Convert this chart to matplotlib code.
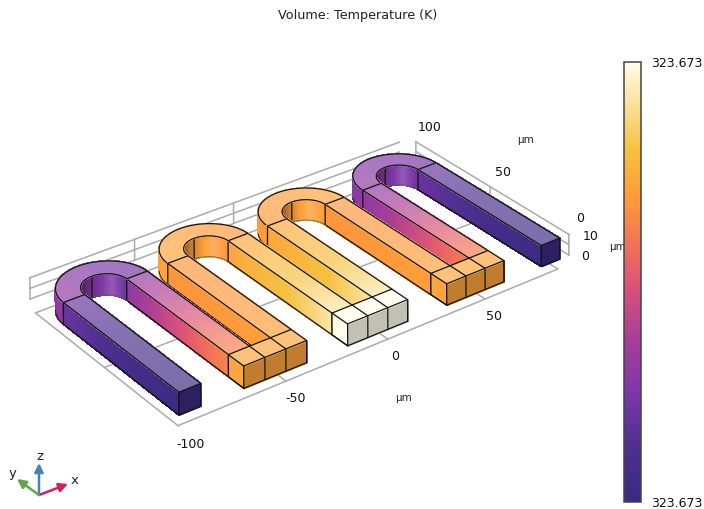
import numpy as np
import matplotlib
matplotlib.use("Agg")
import matplotlib.pyplot as plt
from matplotlib.collections import PolyCollection
from matplotlib.colors import LinearSegmentedColormap, Normalize
from matplotlib.cm import ScalarMappable

# ---------- data ----------
title = "Volume: Temperature (K)"
t_min, t_max = 323.6728, 323.6732
cmap_pos = [0.0, 0.12, 0.25, 0.37, 0.48, 0.58, 0.69, 0.80, 1.0]
cmap_col = ["#3a2a80", "#4e2f90", "#7e37a8", "#a83e98", "#d8507a",
            "#f07058", "#ff9a3a", "#f5c040", "#fffdea"]

arm_y = [0, 20, 40, 60, 80]
arm_w = 10
arm_t = {80: [.01, .05, .09, .14, .20],
         50: [.66, .58, .48, .38, .30],
         30: [.70, .70, .69, .68, .68],
         0: [.97, .88, .80, .77, .72],
         -20: [.97, .88, .80, .77, .72],
         -50: [.70, .70, .69, .68, .68],
         -70: [.66, .60, .50, .40, .30],
         -100: [.01, .05, .09, .14, .20]}
bend_t = {50: [.30, .22], 0: [.69, .72], -50: [.72, .69], -100: [.30, .22]}
bridge_t = {30: .72, -20: 1.0, -70: .72}
inner_deg = [0, 25, 45, 65, 90, 120, 146]
inner_shade = [.92, 1.05, 1.18, 1.02, .85, .65, .42]

floor_x = [-100.5, 89]
floor_y = [0, 100]
floor_z = -9
floor_xgrid = [-50, 0, 50]
floor_ygrid = [50]
back_wall_y = 104
back_wall_x = [-100.5, 89]
right_wall_x = 95
wall_z = [0, 10, 20]
wall_xgrid = [-50, 0]
wall_ygrid = [50]

# camera calibration: (x, y, z) -> pixel
calib_3d = np.array([(-100, 0, 20), (-100, 0, 0), (-90, 0, 20), (-90, 0, 0), (-70, 0, 20), (-70, 0, 0),
                     (-40, 0, 20), (-40, 0, 0), (-20, 0, 20), (10, 0, 20), (30, 0, 20), (60, 0, 20),
                     (80, 0, 20), (90, 0, 20), (80, 0, 0), (90, 0, 0),
                     (-100, 80, 20), (-90, 80, 20), (-70, 80, 20), (-60, 80, 20), (-100, 80, 0),
                     (80, 80, 20), (90, 80, 20), (80, 80, 0), (50, 80, 20), (60, 80, 20),
                     (0, 80, 20), (10, 80, 20), (30, 80, 20), (40, 80, 20)], float)
calib_px = np.array([(179, 392), (179, 415), (200, 383), (202, 405), (243, 366), (243, 388),
                     (307, 341), (307, 365), (348, 323), (407, 301), (447, 283), (504, 262),
                     (541, 245), (560, 238), (541, 266), (560, 258),
                     (63, 302), (85, 295), (127, 278), (147, 272), (63, 324),
                     (418, 169), (435, 162), (418, 190), (363, 190), (382, 184),
                     (267, 226), (288, 219), (326, 204), (343, 198)], float)

A = []
for (X, Y, Z), (u, v) in zip(calib_3d, calib_px):
    A.append([X, Y, Z, 1, 0, 0, 0, 0, -u * X, -u * Y, -u * Z, -u])
    A.append([0, 0, 0, 0, X, Y, Z, 1, -v * X, -v * Y, -v * Z, -v])
P = np.linalg.svd(np.array(A))[2][-1].reshape(3, 4)


def proj(x, y, z):
    x, y, z = np.broadcast_arrays(np.asarray(x, float), np.asarray(y, float), np.asarray(z, float))
    h = P @ np.stack([x.ravel(), y.ravel(), z.ravel(), np.ones(x.size)])
    return (h[0] / h[2]).reshape(x.shape), (h[1] / h[2]).reshape(x.shape)


cmap = LinearSegmentedColormap.from_list("thermal", list(zip(cmap_pos, cmap_col)), N=256)

fig = plt.figure(figsize=(7.04, 5.09), dpi=100)
ax = fig.add_axes([0, 0, 1, 1])
ax.set_xlim(0, 704)
ax.set_ylim(509, 0)
ax.axis("off")

GRID = "#ababab"
EDGE = "#141414"
z_counter = [10]


def nz():
    z_counter[0] += 1
    return z_counter[0]


def shade(c, f):
    c = np.asarray(c)[..., :3]
    f = np.asarray(f)[..., None]
    return np.where(f > 1, c + (1 - c) * (f - 1), c * f)


def top_mix(c):
    c = np.asarray(c)[..., :3]
    return c + (1 - c) * .32


def surf(X, Y, Z, rgb):
    u, v = proj(X, Y, Z)
    verts, cols = [], []
    for i in range(u.shape[0] - 1):
        for j in range(u.shape[1] - 1):
            verts.append([(u[i, j], v[i, j]), (u[i + 1, j], v[i + 1, j]),
                          (u[i + 1, j + 1], v[i + 1, j + 1]), (u[i, j + 1], v[i, j + 1])])
            cols.append(rgb[i])
    ax.add_collection(PolyCollection(verts, facecolors=cols, edgecolors=cols, linewidths=.7,
                                     antialiaseds=False, zorder=nz()))


def edge(x, y, z, lw=.9, c=EDGE):
    u, v = proj(x, y, z)
    ax.plot(u, v, color=c, lw=lw, zorder=nz(), solid_capstyle="round")


def gray(x, y, z):
    u, v = proj(x, y, z)
    ax.plot(u, v, color=GRID, lw=1.1, zorder=2)


H = 20
YS = np.linspace(0, 80, 61)


def arm_faces(x0, y0):
    ys = YS[YS >= y0]
    t = np.interp((ys[:-1] + ys[1:]) / 2, arm_y, arm_t[x0])
    c = cmap(t)
    surf(np.full((len(ys), 2), x0), np.column_stack([ys, ys]),
         np.tile([0, H], (len(ys), 1)), shade(c, np.ones(len(t))))
    surf(np.column_stack([np.full(len(ys), x0), np.full(len(ys), x0 + arm_w)]),
         np.column_stack([ys, ys]), np.full((len(ys), 2), H), top_mix(c))
    edge([x0, x0, x0, x0], [y0, 80, 80, y0], [H, H, 0, 0])
    edge([x0, x0], [y0, y0], [0, H])
    edge([x0 + arm_w, x0 + arm_w], [y0, 80], [H, H])
    edge([x0, x0 + arm_w], [80, 80], [H, H])
    if y0 == 0:
        c0 = cmap(arm_t[x0][0])
        surf(np.array([[x0, x0], [x0 + arm_w, x0 + arm_w]], float), np.zeros((2, 2)),
             np.array([[0, H], [0, H]], float), shade(np.array([c0]), np.array([.76])))
        edge([x0, x0 + arm_w, x0 + arm_w, x0, x0], [0, 0, 0, 0, 0], [H, H, 0, 0, H])


def bridge(x0):
    c = cmap(bridge_t[x0])
    w = 30
    surf(np.full((2, 2), x0), np.array([[0, 0], [10, 10]], float), np.array([[0, H], [0, H]], float),
         shade(np.array([c]), np.array([1.0])))
    surf(np.array([[x0, x0], [x0 + w, x0 + w]], float), np.zeros((2, 2)), np.array([[0, H], [0, H]], float),
         shade(np.array([c]), np.array([.76])))
    surf(np.array([[x0, x0], [x0 + w, x0 + w]], float), np.array([[0, 10], [0, 10]], float), np.full((2, 2), H),
         top_mix(np.array([c])))
    edge([x0, x0 + w, x0 + w, x0, x0], [0, 0, 0, 0, 0], [H, H, 0, 0, H])
    edge([x0, x0, x0 + w, x0 + w, x0 + w], [0, 10, 10, 0, 0], [H, H, H, H, 0])
    edge([x0, x0, x0], [0, 10, 10], [0, 0, H])
    edge([x0, x0], [0, 10], [0, 0])
    for dx in (10, 20):
        edge([x0 + dx, x0 + dx, x0 + dx], [10, 0, 0], [H, H, 0])


def bend(x0):
    cx, cy = x0 + 20, 80
    th = np.radians(np.linspace(0, 180, 73))
    thm = (th[:-1] + th[1:]) / 2
    t = np.interp(thm, [0, np.pi], bend_t[x0][::-1])
    c = cmap(t)
    vis = np.degrees(th) <= 146
    thv = th[vis]
    f = np.interp(np.degrees((thv[:-1] + thv[1:]) / 2), inner_deg, inner_shade)
    surf(np.column_stack([cx + 10 * np.cos(thv)] * 2), np.column_stack([cy + 10 * np.sin(thv)] * 2),
         np.tile([0, H], (len(thv), 1)), shade(c[:len(thv) - 1], f))
    edge(cx + 10 * np.cos(thv), cy + 10 * np.sin(thv), np.zeros(len(thv)), lw=.5, c="#555555")
    # vertical seams on the inner wall, at the arm junction and at the crown
    edge([cx + 10, cx + 10], [cy, cy], [0, H])
    edge([cx, cx], [cy + 10, cy + 10], [0, H])
    vis = np.degrees(th) >= 146
    tho = th[vis]
    surf(np.column_stack([cx + 20 * np.cos(tho)] * 2), np.column_stack([cy + 20 * np.sin(tho)] * 2),
         np.tile([0, H], (len(tho), 1)), shade(c[-(len(tho) - 1):], np.ones(len(tho) - 1)))
    edge(cx + 20 * np.cos(tho), cy + 20 * np.sin(tho), np.zeros(len(tho)), lw=.6)
    surf(np.column_stack([cx + 10 * np.cos(th), cx + 20 * np.cos(th)]),
         np.column_stack([cy + 10 * np.sin(th), cy + 20 * np.sin(th)]),
         np.full((len(th), 2), H), top_mix(c))
    edge(cx + 10 * np.cos(th), cy + 10 * np.sin(th), np.full(len(th), H))
    edge(cx + 20 * np.cos(th), cy + 20 * np.sin(th), np.full(len(th), H))
    # seam on the right arm's top
    edge([cx + 10, cx + 20], [cy, cy], [H, H])


# ---------- floor and walls ----------
fx0, fx1 = floor_x
fy0, fy1 = floor_y
gray([fx0, fx1, fx1, fx0, fx0], [fy0, fy0, fy1, fy1, fy0], [floor_z] * 5)
for gx in floor_xgrid:
    gray([gx, gx], [fy0, fy1], [floor_z] * 2)
for gy in floor_ygrid:
    gray([fx0, fx1], [gy, gy], [floor_z] * 2)
for wz in wall_z:
    gray(back_wall_x, [back_wall_y] * 2, [wz, wz])
    gray([right_wall_x] * 2, [100, 0], [wz, wz])
for gx in [back_wall_x[0]] + wall_xgrid:
    gray([gx, gx], [back_wall_y] * 2, [wall_z[0], wall_z[-1]])
for gy in [100] + wall_ygrid + [0]:
    gray([right_wall_x] * 2, [gy, gy], [wall_z[0], wall_z[-1]])

# ---------- serpentine, far pieces first ----------
arm_faces(80, 0)
bend(50)
arm_faces(50, 10)
arm_faces(30, 10)
bridge(30)
bend(0)
arm_faces(0, 10)
arm_faces(-20, 10)
bridge(-20)
bend(-50)
arm_faces(-50, 10)
arm_faces(-70, 10)
bridge(-70)
bend(-100)
arm_faces(-100, 0)

# ---------- labels ----------
ax.text(357.5, 15, title, ha="center", va="center", fontsize=9.2, color="#222222")
x_labels = [("-100", 191, 444), ("-50", 296, 399), ("0", 395, 357), ("50", 494, 317)]
y_labels = [("100", 430, 127), ("50", 503, 172), ("0", 580, 219)]
z_labels = [("10", 591, 236), ("0", 585, 257)]
for s, u, v in x_labels + y_labels + z_labels:
    ax.text(u, v, s, ha="center", va="center", fontsize=9, color="#111111", zorder=500)
for u, v in [(404, 398), (525, 140), (618, 247)]:
    ax.text(u, v, "µm", ha="center", va="center", fontsize=7.5, color="#222222", zorder=500)

# triad
org = (39, 495)
for tip, col in [((39, 463), "#4a80b8"), ((68, 484), "#d81b60"), ((17, 479), "#5aa845")]:
    ax.annotate("", xy=tip, xytext=org, zorder=600,
                arrowprops=dict(arrowstyle="-|>", color=col, lw=1.8, mutation_scale=13, shrinkA=0, shrinkB=0))
for s, u, v in [("z", 40, 456), ("x", 75, 480), ("y", 13, 474)]:
    ax.text(u, v, s, ha="center", va="center", fontsize=9.5, color="#222222", zorder=600)

# colour bar
cax = fig.add_axes([624 / 704, 1 - 502 / 509, 17 / 704, 440 / 509])
cb = fig.colorbar(ScalarMappable(Normalize(t_min, t_max), cmap), cax=cax, ticks=[t_min, t_max], format="%.3f")
cb.ax.tick_params(length=0, pad=7, labelsize=9, labelcolor="#111111")
cb.outline.set_edgecolor("#444444")
cb.outline.set_linewidth(1.1)

fig.savefig("out.png", dpi=100)
